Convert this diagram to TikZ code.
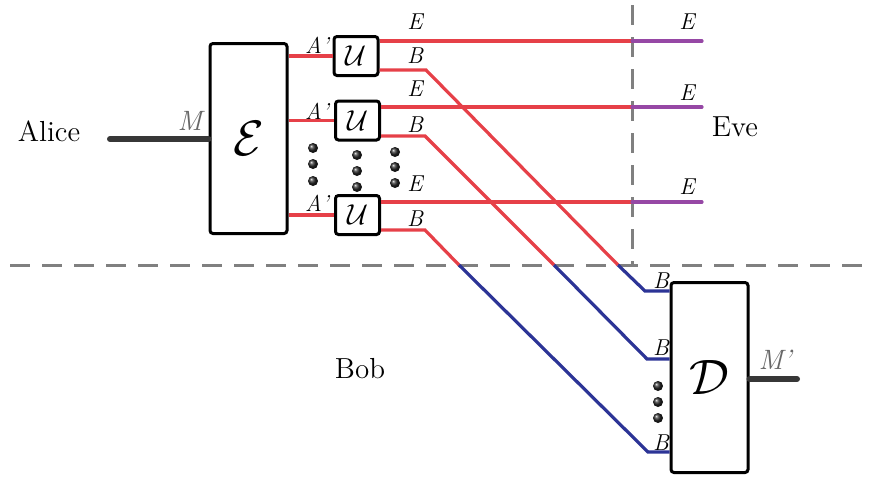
\documentclass[tikz,border=0pt]{standalone}
\usepackage{tikz}
\usepackage{xcolor}
\usetikzlibrary{positioning, calc, shadows}
\definecolor{q-red}{RGB}{230,64,72}
\definecolor{q-blue}{RGB}{44,52,150}
\definecolor{q-purple}{RGB}{150,72,165}
\definecolor{q-dark}{RGB}{55,55,55}
\definecolor{q-gray}{RGB}{128,128,128}

\begin{document}
\begin{tikzpicture}[x=0.5pt, y=-0.5pt,
  box/.style={draw, line width=1.5pt, rounded corners=1.5pt, fill=white, drop shadow={shadow xshift=0.6pt, shadow yshift=-0.6pt, opacity=0.35}},
  bigbox/.style={box, minimum width=38.5pt, minimum height=95pt, inner sep=0pt, font=\fontsize{23}{23}\selectfont},
  ubox/.style={box, minimum width=22pt, minimum height=19.5pt, inner sep=0pt, font=\fontsize{15}{15}\selectfont},
  wire/.style={line width=1.6pt, q-red},
  bwire/.style={line width=1.6pt, q-blue},
  ewire/.style={line width=1.6pt, q-purple, line cap=round},
  msg/.style={line width=3pt, q-dark, line cap=round},
  lbl/.style={font=\fontsize{11.5}{12}\selectfont\itshape, inner sep=0pt},
  party/.style={font=\fontsize{14.5}{16}\selectfont, inner sep=0pt},
  border/.style={line width=1.5pt, q-gray, dash pattern=on 10pt off 6pt},
  qdot/.style={circle, inner sep=0pt, minimum size=5pt, shading=ball, ball color=black!85},
]
  \useasboundingbox (0,0) rectangle (875,478);

  % Borders between the parties
  \coordinate (bl) at (10,265);
  \coordinate (br) at (865,265);
  \coordinate (vt) at (632,5);
  \draw[border] (bl) -- (br);
  \draw[border] (vt) -- (vt |- bl);

  % Parties
  \node[party] (alice) at (49,131) {Alice};
  \node[party] (eve) at (735,127) {Eve};
  \node[party] (bob) at (360,369) {Bob};

  % Encoder, unitaries, decoder
  \node[bigbox] (enc) at (248.5,138.5) {$\mathcal{E}$};
  \node[ubox] (u1) at (356,56) {$\mathcal{U}$};
  \node[ubox] (u2) at (357.5,120.5) {$\mathcal{U}$};
  \node[ubox] (u3) at (357.5,215) {$\mathcal{U}$};
  \node[bigbox] (dec) at (709.5,377.5) {$\mathcal{D}$};

  % Message in and out
  \coordinate (min) at (110,139);
  \coordinate (mout) at (797,379);
  \draw[msg] (min) -- (min -| enc.west);
  \draw[msg] (mout -| dec.east) -- (mout);
  \node[lbl, font=\fontsize{14}{14}\selectfont\itshape, text=q-gray!80!black] (mlbl) at (190,121) {M};
  \node[lbl, font=\fontsize{14}{14}\selectfont\itshape, text=q-gray!80!black] (mplbl) at (775,360) {M'};

  % A' wires
  \draw[wire] (enc.east |- u1) -- (u1.west);
  \draw[wire] (enc.east |- u2) -- (u2.west);
  \draw[wire] (enc.east |- u3) -- (u3.west);
  \node[lbl] (a1) at (317,45) {A'};
  \node[lbl] (a2) at (317,111) {A'};
  \node[lbl] (a3) at (317,203) {A'};

  % E wires to Eve
  \coordinate (x1) at (632,41);
  \coordinate (x2) at (632,107);
  \coordinate (x3) at (632,202);
  \coordinate (eo1) at (702,41);
  \coordinate (eo2) at (702,107);
  \coordinate (eo3) at (702,202);
  \draw[wire] (u1.east |- x1) -- (x1);
  \draw[wire] (u2.east |- x2) -- (x2);
  \draw[wire] (u3.east |- x3) -- (x3);
  \draw[ewire] (x1) -- (eo1);
  \draw[ewire] (x2) -- (eo2);
  \draw[ewire] (x3) -- (eo3);
  \node[lbl] (e1) at (415,22) {E};
  \node[lbl] (e2) at (415,89) {E};
  \node[lbl] (e3) at (415,184) {E};
  \node[lbl] (ee1) at (687,22) {E};
  \node[lbl] (ee2) at (687,93) {E};
  \node[lbl] (ee3) at (687,187) {E};

  % B wires to Bob
  \coordinate (b1) at (426,70);
  \coordinate (b2) at (425,136);
  \coordinate (b3) at (425,230);
  \coordinate (c1) at (618,265);
  \coordinate (c2) at (554,265);
  \coordinate (c3) at (459,265);
  \coordinate (k1) at (645,291);
  \coordinate (k2) at (647,359);
  \coordinate (k3) at (648,452);
  \draw[wire] (u1.east |- b1) -- (b1) -- (c1);
  \draw[wire] (u2.east |- b2) -- (b2) -- (c2);
  \draw[wire] (u3.east |- b3) -- (b3) -- (c3);
  \draw[bwire] (c1) -- (k1) -- (k1 -| dec.west);
  \draw[bwire] (c2) -- (k2) -- (k2 -| dec.west);
  \draw[bwire] (c3) -- (k3) -- (k3 -| dec.west);
  \node[lbl] (bl1) at (415,56) {B};
  \node[lbl] (bl2) at (415,125) {B};
  \node[lbl] (bl3) at (415,219) {B};
  \node[lbl] (bd1) at (661,281) {B};
  \node[lbl] (bd2) at (661,348) {B};
  \node[lbl] (bd3) at (661,443) {B};

  % Ellipsis dots
  \node[qdot] (d11) at (313,148) {};
  \node[qdot] (d12) at (313,164) {};
  \node[qdot] (d13) at (313,181) {};
  \node[qdot] (d21) at (357,155) {};
  \node[qdot] (d22) at (357,171) {};
  \node[qdot] (d23) at (357,187) {};
  \node[qdot] (d31) at (395,152) {};
  \node[qdot] (d32) at (395,167) {};
  \node[qdot] (d33) at (395,183) {};
  \node[qdot] (d41) at (658,386) {};
  \node[qdot] (d42) at (658,402) {};
  \node[qdot] (d43) at (658,418) {};
\end{tikzpicture}
\end{document}
